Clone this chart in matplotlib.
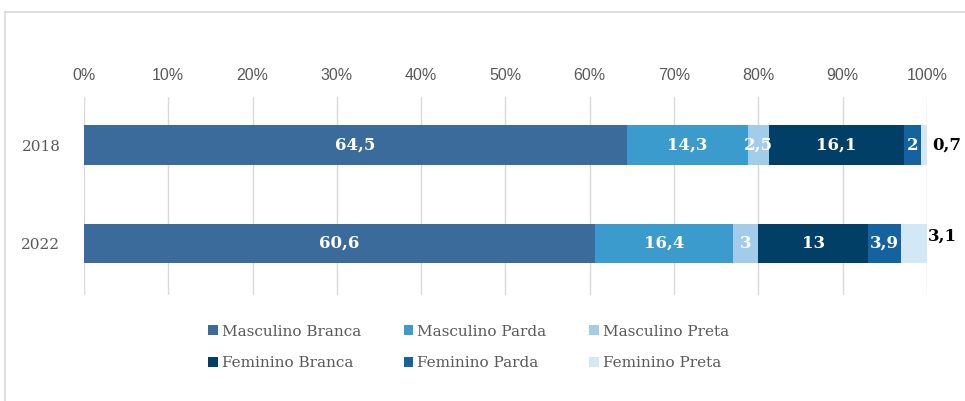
import matplotlib.pyplot as plt
import numpy as np
from matplotlib.patches import Patch
from matplotlib.lines import Line2D

years = ["2018", "2022"]
series = ["Masculino Branca", "Masculino Parda", "Masculino Preta",
          "Feminino Branca", "Feminino Parda", "Feminino Preta"]
values = {
    "Masculino Branca": [64.5, 60.6],
    "Masculino Parda": [14.3, 16.4],
    "Masculino Preta": [2.5, 3.0],
    "Feminino Branca": [16.1, 13.0],
    "Feminino Parda": [2.0, 3.9],
    "Feminino Preta": [0.7, 3.1],
}
colors = ["#3a6b9a", "#3b9bcc", "#a3cbea", "#023f66", "#1562a0", "#d2e8f6"]
xticks = [0, 10, 20, 30, 40, 50, 60, 70, 80, 90, 100]

serif = ["DejaVu Serif"]

fig = plt.figure(figsize=(9.65, 4.01), dpi=100)
ax = fig.add_axes([0.087, 0.264, 0.8736, 0.494])

# outer frame like the original chart area border
fig.add_artist(Line2D([5 / 965, 1], [1 - 12 / 401] * 2, transform=fig.transFigure,
                      color="#d9d9d9", lw=1.2))
fig.add_artist(Line2D([5 / 965] * 2, [0, 1 - 12 / 401], transform=fig.transFigure,
                      color="#d9d9d9", lw=1.2))

totals = np.sum([values[s] for s in series], axis=0)
y = np.arange(len(years))
left = np.zeros(len(years))
for s, c in zip(series, colors):
    raw = np.array(values[s])
    w = raw / totals * 100
    ax.barh(y, w, left=left, height=0.4, color=c, zorder=2)
    for i in range(len(years)):
        txt = f"{raw[i]:g}".replace(".", ",")
        if s == "Feminino Preta":
            dx, dy = [(0.6, 0), (0.1, -0.07)][i]
            ax.text(left[i] + w[i] + dx, y[i] + dy, txt, ha="left", va="center",
                    color="black", fontweight="bold", fontsize=12, family=serif)
        else:
            ax.text(left[i] + w[i] / 2, y[i], txt, ha="center", va="center",
                    color="white", fontweight="bold", fontsize=12, family=serif)
    left += w

ax.set_xlim(0, 100)
ax.set_ylim(1.53, -0.49)
ax.set_xticks(xticks)
ax.set_xticklabels([f"{t}%" for t in xticks], family="Liberation Sans",
                   fontsize=11.5, color="#595959")
ax.xaxis.tick_top()
ax.tick_params(axis="x", length=0, pad=10)
ax.set_yticks(y)
ax.set_yticklabels(years, family=serif, fontsize=11, color="#595959")
ax.tick_params(axis="y", length=0, pad=17)
ax.grid(axis="x", color="#d9d9d9", lw=1, zorder=0)
ax.set_axisbelow(True)
for sp in ax.spines.values():
    sp.set_visible(False)

# legend filled row by row (matplotlib fills columns first)
order = [0, 3, 1, 4, 2, 5]
handles = [Patch(facecolor=colors[k], label=series[k]) for k in order]
leg = fig.legend(handles=handles, ncol=3, loc="center", bbox_to_anchor=(0.4855, 0.1334),
                 frameon=False, prop={"family": serif, "size": 11},
                 handlelength=0.65, handleheight=0.65, handletextpad=0.26,
                 columnspacing=2.75, labelspacing=1.15)
for t in leg.get_texts():
    t.set_color("#595959")

fig.savefig("out.png", dpi=100)
